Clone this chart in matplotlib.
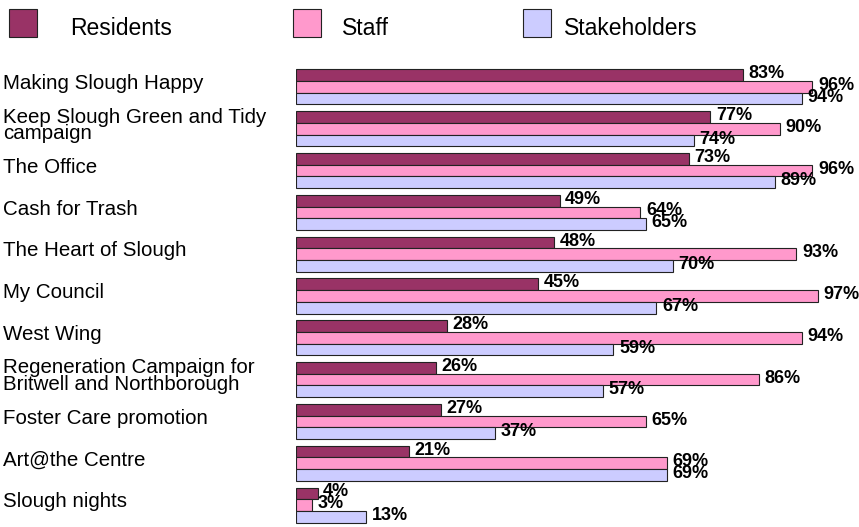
import matplotlib
matplotlib.use("Agg")
import matplotlib.pyplot as plt
import matplotlib.transforms as mtransforms
from matplotlib.patches import Rectangle
import numpy as np

plt.rcParams['font.family'] = ['Liberation Sans', 'DejaVu Sans']

# данные
categories = [
    "Making Slough Happy",
    "Keep Slough Green and Tidy\ncampaign",
    "The Office",
    "Cash for Trash",
    "The Heart of Slough",
    "My Council",
    "West Wing",
    "Regeneration Campaign for\nBritwell and Northborough",
    "Foster Care promotion",
    "Art@the Centre",
    "Slough nights",
]
residents = [83, 77, 73, 49, 48, 45, 28, 26, 27, 21, 4]
staff = [96, 90, 96, 64, 93, 97, 94, 86, 65, 69, 3]
stakeholders = [94, 74, 89, 65, 70, 67, 59, 57, 37, 69, 13]

series_names = ["Residents", "Staff", "Stakeholders"]
colors = ["#993366", "#FF99CC", "#CCCCFF"]

W, H = 859, 527
fig = plt.figure(figsize=(W / 100, H / 100), dpi=100)
ax = fig.add_axes([296 / W, 1 / H, 538 / W, 460 / H])

y = np.arange(len(categories))
h = 0.28
for k, vals in enumerate([residents, staff, stakeholders]):
    pos = y + (k - 1) * h
    ax.barh(pos, vals, height=h, color=colors[k], edgecolor="#222222", linewidth=0.8)
    for p, v in zip(pos, vals):
        ax.annotate(f"{v}%", (v, p), xytext=(4, 1), textcoords="offset points",
                    ha="left", va="center", fontsize=13, fontweight="bold",
                    annotation_clip=False)

ax.set_xlim(0, 100)
ax.set_ylim(len(categories) - 0.5, -0.5)
ax.axis("off")

# подписи категорий слева
trans = mtransforms.blended_transform_factory(fig.transFigure, ax.transData)
for i, name in enumerate(categories):
    ax.text(3 / W, i - 0.08, name, transform=trans, ha="left", va="center",
            fontsize=14.8, linespacing=0.85)

# легенда вручную
patch_x = [9, 293, 523]
text_x = [70, 342, 564]
for k in range(3):
    fig.add_artist(Rectangle((patch_x[k] / W, 1 - 37 / H), 28 / W, 28 / H,
                             transform=fig.transFigure, facecolor=colors[k],
                             edgecolor="#222222", linewidth=0.8))
    fig.text(text_x[k] / W, 1 - 35 / H, series_names[k], ha="left", va="baseline",
             fontsize=16.5)

fig.savefig("out.png", dpi=100)
